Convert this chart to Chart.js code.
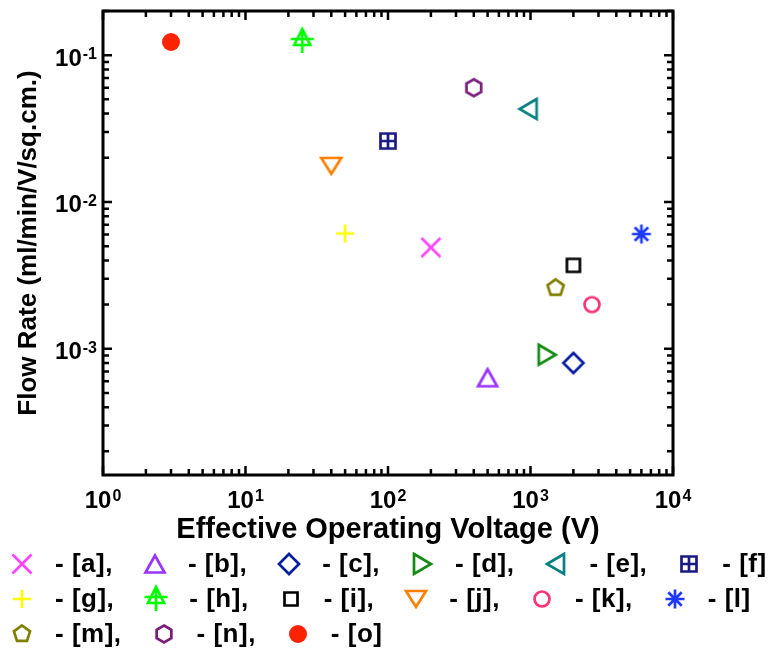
<!DOCTYPE html>
<html>
<head>
<meta charset="utf-8">
<script src="https://cdn.jsdelivr.net/npm/chart.js@4.4.0/dist/chart.umd.min.js"></script>
<style>
  body { margin: 0; background: #fff; font-family: "Liberation Sans", Arial, sans-serif; }
  #wrap { position: relative; width: 773px; height: 651px; }
  #chart { position: absolute; left: 0; top: 0; }
  #legend { position: absolute; left: 0; top: 546px; width: 800px; }
  .row { display: flex; align-items: center; height: 35px; padding-left: 7px; white-space: nowrap; }
  .item { display: flex; flex: none; align-items: center; margin-right: 27px; }
  .item canvas { flex: none; width: 30px; height: 30px; margin-right: 18px; }
  .item span { flex: none; font: bold 26px "Liberation Sans", Arial, sans-serif; letter-spacing: 0.5px; color: #000; }
</style>
</head>
<body>
<div id="wrap">
  <canvas id="chart" width="773" height="555"></canvas>
  <div id="legend"></div>
</div>
<script>
// reference labels, values
const refs = ['a', 'b', 'c', 'd', 'e', 'f', 'g', 'h', 'i', 'j', 'k', 'l', 'm', 'n', 'o'];
const voltage = [200, 500, 2000, 1300, 970, 100, 50, 25, 2000, 40, 2700, 6000, 1500, 400, 3];
const flowRate = [0.0049, 0.000635, 0.0008, 0.00091, 0.043, 0.026, 0.0061, 0.125, 0.0037, 0.0176, 0.002, 0.00605, 0.0026, 0.06, 0.123];
const symbols = ['cross', 'triangle', 'diamond', 'triRight', 'triLeft', 'boxPlus', 'plus', 'tree',
                 'square', 'triDown', 'circle', 'asterisk', 'pentagon', 'hexagon', 'dot'];
const colors = ['#FF44FF', '#9933FF', '#0A1FA0', '#148A14', '#0A8080', '#1A1A80', '#FFFF00', '#00FF00',
                '#000000', '#FF8000', '#FF3377', '#1F3AFF', '#808000', '#7A1F7A', '#FF2200'];
const legendRows = [['a', 'b', 'c', 'd', 'e', 'f'], ['g', 'h', 'i', 'j', 'k', 'l'], ['m', 'n', 'o']];
const xRange = [1, 10000];
const yRange = [0.000138, 0.2];
const xTitle = 'Effective Operating Voltage (V)';
const yTitle = 'Flow Rate (ml/min/V/sq.cm.)';

function drawMarker(ctx, type, color, cx, cy) {
    ctx.save();
    ctx.translate(cx, cy);
    ctx.strokeStyle = color;
    ctx.fillStyle = color;
    ctx.lineWidth = 2.7;
    ctx.lineJoin = 'miter';
    ctx.beginPath();
    const poly = pts => { ctx.moveTo(pts[0][0], pts[0][1]); pts.slice(1).forEach(p => ctx.lineTo(p[0], p[1])); ctx.closePath(); };
    const seg = (x1, y1, x2, y2) => { ctx.moveTo(x1, y1); ctx.lineTo(x2, y2); };
    switch (type) {
        case 'cross': seg(-9.5, -9.5, 9.5, 9.5); seg(-9.5, 9.5, 9.5, -9.5); break;
        case 'triangle': poly([[0, -8.5], [-9.5, 8.5], [9.5, 8.5]]); break;
        case 'diamond': poly([[0, -10], [10, 0], [0, 10], [-10, 0]]); break;
        case 'triRight': poly([[-8, -10], [9, 0], [-8, 10]]); break;
        case 'triLeft': poly([[8, -10], [-9, 0], [8, 10]]); break;
        case 'boxPlus':
            ctx.rect(-7.5, -7.5, 15, 15); seg(0, -7.5, 0, 7.5); seg(-7.5, 0, 7.5, 0); break;
        case 'plus': seg(-9, 0, 9, 0); seg(0, -9, 0, 9); break;
        case 'tree':
            seg(0, -12, 0, 12); poly([[0, -12], [-8, 4], [8, 4]]); seg(-11.5, -2, 11.5, -2); break;
        case 'square': ctx.rect(-6.5, -6.5, 13, 13); break;
        case 'triDown': poly([[-10, -8], [10, -8], [0, 8]]); break;
        case 'circle': ctx.arc(0, 0, 7.5, 0, Math.PI * 2); break;
        case 'asterisk':
            for (let k = 0; k < 4; k++) {
                const a = k * Math.PI / 4;
                seg(-9.5 * Math.cos(a), -9.5 * Math.sin(a), 9.5 * Math.cos(a), 9.5 * Math.sin(a));
            }
            break;
        case 'pentagon':
            poly([0, 1, 2, 3, 4].map(k => [8.5 * Math.sin(k * 2 * Math.PI / 5), -8.5 * Math.cos(k * 2 * Math.PI / 5)]));
            break;
        case 'hexagon':
            poly([0, 1, 2, 3, 4, 5].map(k => [8.5 * Math.sin(k * Math.PI / 3), -8.5 * Math.cos(k * Math.PI / 3)]));
            break;
        case 'dot': ctx.arc(0, 0, 9, 0, Math.PI * 2); ctx.fill(); ctx.restore(); return;
    }
    ctx.stroke();
    ctx.restore();
}

function markerCanvas(type, color) {
    const c = document.createElement('canvas');
    c.width = 30;
    c.height = 30;
    drawMarker(c.getContext('2d'), type, color, 15, 15);
    return c;
}

// 1..9 x 10^k inside the range
function logTicks(range) {
    const out = [];
    for (let e = Math.floor(Math.log10(range[0])); e <= Math.ceil(Math.log10(range[1])); e++) {
        for (let m = 1; m <= 9; m++) {
            const v = m * Math.pow(10, e);
            if (v >= range[0] * 0.999 && v <= range[1] * 1.001) out.push({ v, major: m === 1, e });
        }
    }
    return out;
}

const frameAndTicks = {
    id: 'frameAndTicks',
    afterDraw(chart) {
        const { ctx, chartArea: a, scales: { x, y } } = chart;
        ctx.save();
        ctx.strokeStyle = '#000';
        ctx.lineWidth = 2.5;
        ctx.beginPath();
        logTicks(xRange).forEach(t => {
            const px = x.getPixelForValue(t.v);
            const len = t.major ? 9 : 6;
            ctx.moveTo(px, a.bottom); ctx.lineTo(px, a.bottom - len);
            ctx.moveTo(px, a.top); ctx.lineTo(px, a.top + len);
        });
        logTicks(yRange).forEach(t => {
            const py = y.getPixelForValue(t.v);
            const len = t.major ? 9 : 6;
            ctx.moveTo(a.left, py); ctx.lineTo(a.left + len, py);
            ctx.moveTo(a.right, py); ctx.lineTo(a.right - len, py);
        });
        ctx.stroke();
        ctx.lineWidth = 3;
        ctx.strokeRect(a.left, a.top, a.right - a.left, a.bottom - a.top);

        // tick labels as 10 with a raised exponent
        const base = 'bold 24px "Liberation Sans", Arial, sans-serif';
        const sup = 'bold 16px "Liberation Sans", Arial, sans-serif';
        ctx.fillStyle = '#000';
        ctx.textBaseline = 'alphabetic';
        logTicks(xRange).filter(t => t.major).forEach(t => {
            const px = x.getPixelForValue(t.v);
            ctx.font = base;
            const w1 = ctx.measureText('10').width;
            ctx.font = sup;
            const w2 = ctx.measureText(String(t.e)).width;
            const left = px - (w1 + 1 + w2) / 2;
            ctx.textAlign = 'left';
            ctx.font = base;
            ctx.fillText('10', left, a.bottom + 33);
            ctx.font = sup;
            ctx.fillText(String(t.e), left + w1 + 1, a.bottom + 26);
        });
        logTicks(yRange).filter(t => t.major).forEach(t => {
            const py = y.getPixelForValue(t.v);
            const right = a.left - 6;
            ctx.textAlign = 'right';
            ctx.font = sup;
            const w2 = ctx.measureText(String(t.e)).width;
            ctx.fillText(String(t.e), right, py + 4);
            ctx.font = base;
            ctx.fillText('10', right - w2 - 1, py + 10.5);
        });
        ctx.restore();
    }
};

const datasets = refs.map((r, i) => ({
    label: '[' + r + ']',
    data: [{ x: voltage[i], y: flowRate[i] }],
    pointStyle: markerCanvas(symbols[i], colors[i]),
    pointRadius: 10,
    showLine: false
}));

new Chart(document.getElementById('chart'), {
    type: 'scatter',
    data: { datasets },
    options: {
        responsive: false,
        animation: false,
        layout: { padding: { top: 8, right: 100, left: 0, bottom: 0 } },
        plugins: { legend: { display: false }, tooltip: { enabled: false } },
        scales: {
            x: {
                type: 'logarithmic',
                min: xRange[0],
                max: xRange[1],
                grid: { display: false },
                border: { display: false },
                ticks: { display: false },
                title: {
                    display: true,
                    text: xTitle,
                    color: '#000',
                    font: { family: '"Liberation Sans", Arial, sans-serif', size: 29, weight: 'bold' },
                    padding: { top: 0, bottom: 8 }
                },
                afterFit: s => { s.height = 80; }
            },
            y: {
                type: 'logarithmic',
                min: yRange[0],
                max: yRange[1],
                grid: { display: false },
                border: { display: false },
                ticks: { display: false },
                title: {
                    display: true,
                    text: yTitle,
                    color: '#000',
                    font: { family: '"Liberation Sans", Arial, sans-serif', size: 26, weight: 'bold' },
                    padding: { top: 13, bottom: 0 }
                },
                afterFit: s => { s.width = 103; }
            }
        }
    },
    plugins: [frameAndTicks]
});

// legend rows under the chart
const legend = document.getElementById('legend');
legendRows.forEach(row => {
    const rowDiv = document.createElement('div');
    rowDiv.className = 'row';
    row.forEach((r, j) => {
        const i = refs.indexOf(r);
        const item = document.createElement('div');
        item.className = 'item';
        item.appendChild(markerCanvas(symbols[i], colors[i]));
        const span = document.createElement('span');
        span.textContent = '- [' + r + ']' + (j < row.length - 1 ? ',' : '');
        item.appendChild(span);
        rowDiv.appendChild(item);
    });
    legend.appendChild(rowDiv);
});
</script>
</body>
</html>
